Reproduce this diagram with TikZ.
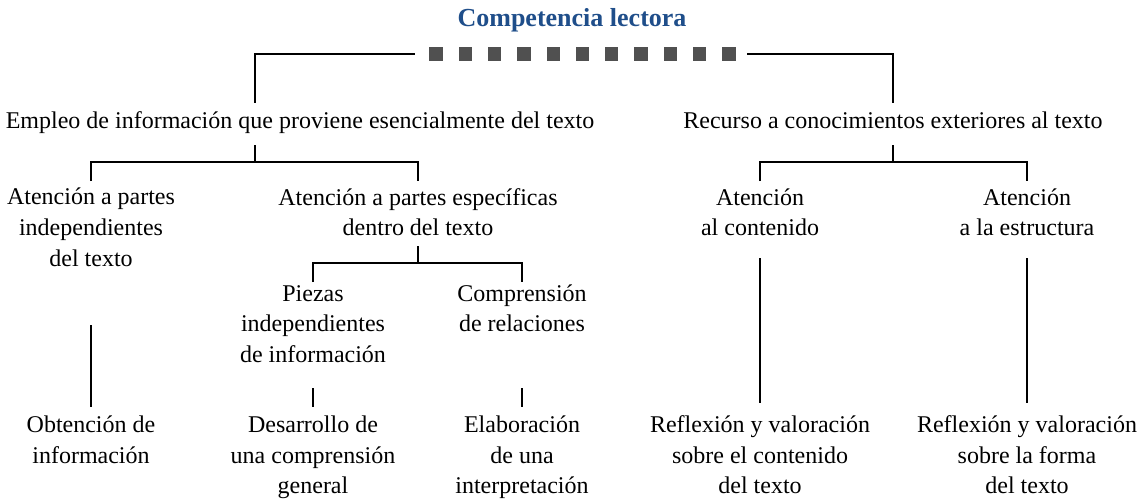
\documentclass[tikz,border=0pt]{standalone}
\usepackage{fontspec}
\setmainfont{Liberation Serif}
\definecolor{TitleBlue}{RGB}{31,78,138}
\definecolor{SquareGray}{RGB}{80,80,80}
\tikzset{
    txt/.style={align=center, inner sep=0pt, font=\fontsize{18}{22.9}\selectfont},
    conn/.style={line width=0.8pt},
    sqr/.style={fill=SquareGray, inner sep=0pt, minimum size=10pt}
}

\begin{document}
\begin{tikzpicture}[x=0.75pt, y=-0.75pt]
    \useasboundingbox (0,0) rectangle (1146,503);
    % title and bar of squares
    \node[txt, font=\bfseries\fontsize{19.5}{23.6}\selectfont, text=TitleBlue] (title) at (572,20) {Competencia lectora};
    \foreach \i in {0,...,10}
    {
        \node[sqr] (sq-\i) at (436 + 29.3*\i, 54) {};
    }
    % text blocks
    \node[txt] (empleo) at (300,122.5) {Empleo de información que proviene esencialmente del texto};
    \node[txt] (recurso) at (893,120) {Recurso a conocimientos exteriores al texto};
    \node[txt] (a1) at (91,227.3) {Atención a partes\\independientes\\del texto};
    \node[txt] (a2) at (418,212.1) {Atención a partes específicas\\dentro del texto};
    \node[txt] (a3) at (760,212.1) {Atención\\al contenido};
    \node[txt] (a4) at (1027,212.1) {Atención\\a la estructura};
    \node[txt] (p1) at (313,323.8) {Piezas\\independientes\\de información};
    \node[txt] (p2) at (522,308.3) {Comprensión\\de relaciones};
    \node[txt] (b1) at (91,439.8) {Obtención de\\información};
    \node[txt] (b2) at (313,457.5) {Desarrollo de\\una comprensión\\general};
    \node[txt] (b3) at (522,457.5) {Elaboración\\de una\\interpretación};
    \node[txt] (b4) at (760,454.9) {Reflexión y valoración\\sobre el contenido\\del texto};
    \node[txt] (b5) at (1027,454.9) {Reflexión y valoración\\sobre la forma\\del texto};
    % connectors
    \coordinate (top-l) at (255,103);
    \coordinate (top-r) at (recurso.center |- top-l);
    \draw[conn, shorten >=10.5pt] (top-l) |- (sq-0.west);
    \draw[conn, shorten >=8.5pt] (top-r) |- (sq-10.east);
    \coordinate (fork-e) at (255,162);
    \coordinate (fork-r) at (893,162);
    \coordinate (fork-a) at (a2.center |- 0,263);
    \foreach \f/\l/\r in {fork-e/a1/a2, fork-r/a3/a4, fork-a/p1/p2}
    {
        \draw[conn] (\f) -- ++(0,-17);
        \draw[conn] (\l |- \f) ++(0,19) -- (\l |- \f) -- (\r |- \f) -- ++(0,19);
    }
    \foreach \u/\v/\ya/\yb in {a1/b1/325/407, p1/b2/388/407, p2/b3/388/407, a3/b4/258/403, a4/b5/258/403}
    {
        \draw[conn] (\u |- 0,\ya) -- (\v |- 0,\yb);
    }
\end{tikzpicture}
\end{document}
